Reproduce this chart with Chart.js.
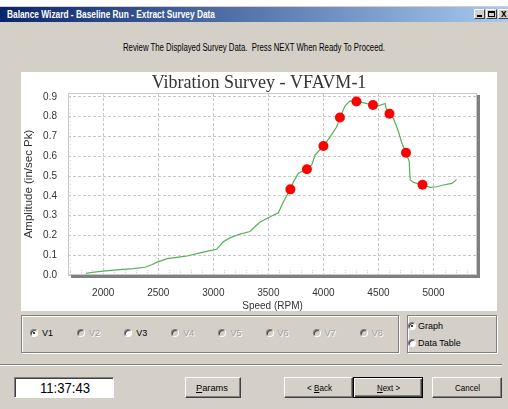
<!DOCTYPE html>
<html>
<head>
<meta charset="utf-8">
<script src="https://cdn.jsdelivr.net/npm/chart.js@4.4.1/dist/chart.umd.min.js"></script>
<style>
  html, body { margin: 0; padding: 0; background: #fff; }
  body { width: 508px; height: 409px; position: relative; overflow: hidden;
         font-family: "Liberation Sans", Arial, sans-serif; }
  .abs { position: absolute; }
  #win { left: 0; top: 6px; width: 508px; height: 403px; background: #d4d0c8; }
  #titlebar { left: 0; top: 7px; width: 508px; height: 15px;
              background: linear-gradient(to right, #0a246a, #a6caf0); }
  .fit { position: absolute; white-space: nowrap; transform-origin: left center; }
  .wbtn { position: absolute; top: 9px; width: 11px; height: 10px; box-sizing: border-box;
          background: #d4d0c8; border: 1px solid; border-color: #fff #404040 #404040 #fff; }
  #panel { left: 21px; top: 72px; width: 476px; height: 239px; background: #fff; }
  .group { position: absolute; box-sizing: border-box; border: 1px solid #808080;
           box-shadow: 1px 1px 0 #fff, inset 1px 1px 0 #fff; }
  .radio { position: absolute; width: 8px; height: 8px; box-sizing: border-box; border-radius: 50%;
           background: #fff; border: 1px solid; border-color: #808080 #fff #fff #808080;
           box-shadow: inset 1px 1px 0 #404040; }
  .radio.dis { background: #d4d0c8; }
  .radio.on::after { content: ""; position: absolute; left: 2px; top: 2px; width: 2px; height: 2px;
                     background: #000; border-radius: 50%; }
  .lbl { position: absolute; font-size: 9px; line-height: 10px; white-space: nowrap; color: #000; }
  .lbl.dis { color: #a0a0a0; text-shadow: 1px 1px 0 #fff; }
  .btn { position: absolute; top: 377px; height: 21px; box-sizing: border-box; background: #d4d0c8;
         border: 1px solid; border-color: #fff #404040 #404040 #fff;
         box-shadow: inset -1px -1px 0 #808080; }
  .btn.def { border: 1px solid #000;
             box-shadow: inset 1px 1px 0 #fff, inset -1px -1px 0 #404040, inset -2px -2px 0 #808080; }
  .btxt { font-size: 9px; line-height: 10px; top: 5px; color: #000; }
  #sep { left: 0; top: 364px; width: 502px; height: 1px; background: #808080; border-bottom: 1px solid #fff; }
  #clock { left: 14px; top: 377px; width: 100px; height: 21px; box-sizing: border-box; background: #fff;
           border: 1px solid; border-color: #808080 #fff #fff #808080; box-shadow: inset 1px 1px 0 #404040; }
</style>
</head>
<body>
<div id="win" class="abs"></div>
<div id="titlebar" class="abs"></div>
<span class="fit" data-w="208" style="left:7px;top:8px;font-size:11px;line-height:13px;font-weight:bold;color:#fff;">Balance Wizard - Baseline Run - Extract Survey Data</span>
<div class="wbtn" style="left:474px;"><div class="abs" style="left:2px;top:5px;width:5px;height:2px;background:#000;"></div></div>
<div class="wbtn" style="left:486px;"><div class="abs" style="left:1px;top:1px;width:7px;height:6px;box-sizing:border-box;border:1px solid #000;border-top-width:2px;"></div></div>
<div class="wbtn" style="left:498px;width:12px;"><span class="abs" style="left:2px;top:-2px;font-size:10px;font-weight:bold;line-height:11px;">x</span></div>

<span class="fit" data-w="262" style="left:123px;top:42px;font-size:10px;line-height:12px;color:#000;">Review The Displayed Survey Data.&nbsp; Press NEXT When Ready To Proceed.</span>

<div id="panel" class="abs"><canvas id="surveyChart" width="476" height="239"></canvas></div>

<div class="group" style="left:21px;top:315px;width:378px;height:38px;"></div>
<div class="group" style="left:407px;top:315px;width:90px;height:38px;"></div>
<div id="radios"></div>
<div class="radio on" style="left:408px;top:322px;"></div>
<span class="lbl" style="left:418px;top:321px;">Graph</span>
<div class="radio" style="left:408px;top:339px;"></div>
<span class="lbl" style="left:418px;top:338px;">Data Table</span>

<div id="sep" class="abs"></div>

<div id="clock" class="abs"></div>
<span class="fit" data-w="50" style="left:40px;top:380px;font-size:15px;line-height:15px;color:#000;">11:37:43</span>

<div class="btn" style="left:185px;width:56px;"></div>
<span class="fit btxt" data-w="32" style="left:196px;top:383px;"><u>P</u>arams</span>
<div class="btn" style="left:284px;width:69px;"></div>
<span class="fit btxt" data-w="25" style="left:307px;top:383px;">&lt; <u>B</u>ack</span>
<div class="btn def" style="left:353px;width:70px;"></div>
<span class="fit btxt" data-w="23" style="left:377px;top:383px;"><u>N</u>ext &gt;</span>
<div class="btn" style="left:432px;width:70px;"></div>
<span class="fit btxt" data-w="25" style="left:455px;top:383px;">Cancel</span>

<script>
// --- data ---
// continuous survey trace (speed in RPM, amplitude in in/sec Pk)
const speedRpm = [1843, 1920, 2000, 2120, 2270, 2380, 2440, 2490, 2580, 2700,
  2760, 2880, 2960, 3030, 3060, 3090, 3160, 3243, 3334, 3380,
  3425, 3460, 3530, 3591, 3636, 3700, 3727, 3773, 3850, 3894,
  3924, 4000, 4061, 4121, 4150, 4197, 4243, 4300, 4349, 4450,
  4500, 4561, 4570, 4600, 4636, 4682, 4712, 4750, 4779, 4788,
  4818, 4900, 4970, 5030, 5091, 5167, 5210];
const amplitude = [0.008, 0.015, 0.020, 0.026, 0.032, 0.039, 0.052, 0.065, 0.083, 0.092,
  0.096, 0.112, 0.122, 0.130, 0.148, 0.168, 0.190, 0.207, 0.220, 0.245,
  0.268, 0.278, 0.298, 0.315, 0.370, 0.433, 0.471, 0.514, 0.535, 0.556,
  0.606, 0.652, 0.698, 0.749, 0.796, 0.855, 0.880, 0.877, 0.873, 0.859,
  0.855, 0.867, 0.840, 0.815, 0.792, 0.724, 0.667, 0.618, 0.575, 0.480,
  0.468, 0.456, 0.443, 0.446, 0.455, 0.463, 0.482];
// extracted survey points (red)
const surveyRpm = [3700, 3850, 4000, 4150, 4300, 4450, 4600, 4750, 4900];
const surveyAmp = [0.433, 0.535, 0.652, 0.796, 0.877, 0.859, 0.815, 0.618, 0.456];
// axis ticks
const xTicks = [2000, 2500, 3000, 3500, 4000, 4500, 5000];
const yTicks = [0, 0.1, 0.2, 0.3, 0.4, 0.5, 0.6, 0.7, 0.8, 0.9];
// vibration channel radio buttons
const channels = ["V1", "V2", "V3", "V4", "V5", "V6", "V7", "V8"];
const channelEnabled = [true, false, true, false, false, false, false, false];

// build the channel radios
const radios = document.getElementById("radios");
channels.forEach((name, i) => {
  const cx = 34 + i * 47.1;
  const r = document.createElement("div");
  r.className = "radio" + (i === 0 ? " on" : "") + (channelEnabled[i] ? "" : " dis");
  r.style.left = (cx - 4) + "px";
  r.style.top = "329px";
  radios.appendChild(r);
  const l = document.createElement("span");
  l.className = "lbl" + (channelEnabled[i] ? "" : " dis");
  l.style.left = (cx + 8) + "px";
  l.style.top = "328px";
  l.textContent = name;
  radios.appendChild(l);
});

// squeeze dialog texts to the widths seen on the screenshot
document.querySelectorAll(".fit").forEach((el) => {
  const w = el.getBoundingClientRect().width;
  el.style.transform = `scaleX(${el.dataset.w / w})`;
});

// frame with grey drop shadow and small minor ticks
const plotFrame = {
  id: "plotFrame",
  beforeDatasetsDraw(chart) {
    const { ctx, chartArea: a, scales } = chart;
    ctx.save();
    ctx.strokeStyle = "#cfcfcf";
    ctx.lineWidth = 1;
    ctx.setLineDash([1, 1]);
    for (let v = 1700; v <= 5300; v += 100) {
      if (v % 500 === 0) continue;
      const x = Math.round(scales.x.getPixelForValue(v)) + 0.5;
      ctx.beginPath();
      ctx.moveTo(x, a.bottom);
      ctx.lineTo(x, a.bottom - 5);
      ctx.stroke();
    }
    for (let v = 0.02; v < 0.92; v += 0.02) {
      const y = Math.round(scales.y.getPixelForValue(v)) + 0.5;
      ctx.beginPath();
      ctx.moveTo(a.left, y);
      ctx.lineTo(a.left + 4, y);
      ctx.stroke();
    }
    ctx.setLineDash([]);
    ctx.strokeStyle = "#c8c8c8";
    ctx.strokeRect(a.left + 0.5, a.top + 0.5, a.width - 1, a.height - 1);
    ctx.fillStyle = "#808080";
    ctx.fillRect(a.right, a.top + 2, 3, a.height + 1);
    ctx.fillRect(a.left + 3, a.bottom, a.width, 3);
    ctx.restore();
  },
};

const tickFont = { family: '"Liberation Sans", Arial, sans-serif', size: 10 };

new Chart(document.getElementById("surveyChart"), {
  type: "line",
  data: {
    datasets: [
      {
        label: "Survey points",
        data: surveyRpm.map((x, i) => ({ x, y: surveyAmp[i] })),
        showLine: false,
        pointRadius: 5,
        pointBackgroundColor: "#ff0000",
        pointBorderWidth: 0,
        order: 0,
      },
      {
        label: "Trace",
        data: speedRpm.map((x, i) => ({ x, y: amplitude[i] })),
        borderColor: "#55b155",
        borderWidth: 1.2,
        pointRadius: 0,
        tension: 0,
        fill: false,
        order: 1,
      },
    ],
  },
  options: {
    responsive: false,
    animation: false,
    layout: { padding: 0 },
    plugins: {
      legend: { display: false },
      tooltip: { enabled: false },
      title: {
        display: true,
        text: "Vibration Survey - VFAVM-1",
        color: "#333",
        font: { family: '"Liberation Serif", "Times New Roman", serif', size: 18, weight: "normal", lineHeight: 1 },
        padding: { top: 2, bottom: 1 },
      },
    },
    scales: {
      x: {
        type: "linear",
        min: 1680,
        max: 5395,
        afterBuildTicks: (s) => { s.ticks = xTicks.map((v) => ({ value: v })); },
        afterFit: (s) => { s.height = 36; },
        ticks: { color: "#333", font: tickFont, padding: 12, callback: (v) => String(v) },
        grid: { color: "#c8c8c8", drawTicks: false },
        border: { display: false, dash: [3, 2] },
        title: { display: true, text: "Speed (RPM)", color: "#333",
                 font: { ...tickFont, lineHeight: 1 }, padding: { top: 0, bottom: 0 } },
      },
      y: {
        min: 0,
        max: 0.92,
        afterBuildTicks: (s) => { s.ticks = yTicks.map((v) => ({ value: v })); },
        afterFit: (s) => { s.width = 47; },
        ticks: { color: "#333", font: tickFont, padding: 11, callback: (v) => v.toFixed(1) },
        grid: { color: "#c8c8c8", drawTicks: false },
        border: { display: false, dash: [3, 2] },
        title: { display: true, text: "Amplitude (in/sec Pk)", color: "#333",
                 font: { ...tickFont, size: 11.5, lineHeight: 1.1 }, padding: { top: 2, bottom: 0 } },
      },
      // empty right-hand strip so the plot ends where the screenshot's does
      spacer: {
        position: "right",
        display: true,
        grid: { display: false },
        ticks: { display: false },
        border: { display: false },
        afterFit: (s) => { s.width = 20; },
      },
    },
  },
  plugins: [plotFrame],
});
</script>
</body>
</html>
